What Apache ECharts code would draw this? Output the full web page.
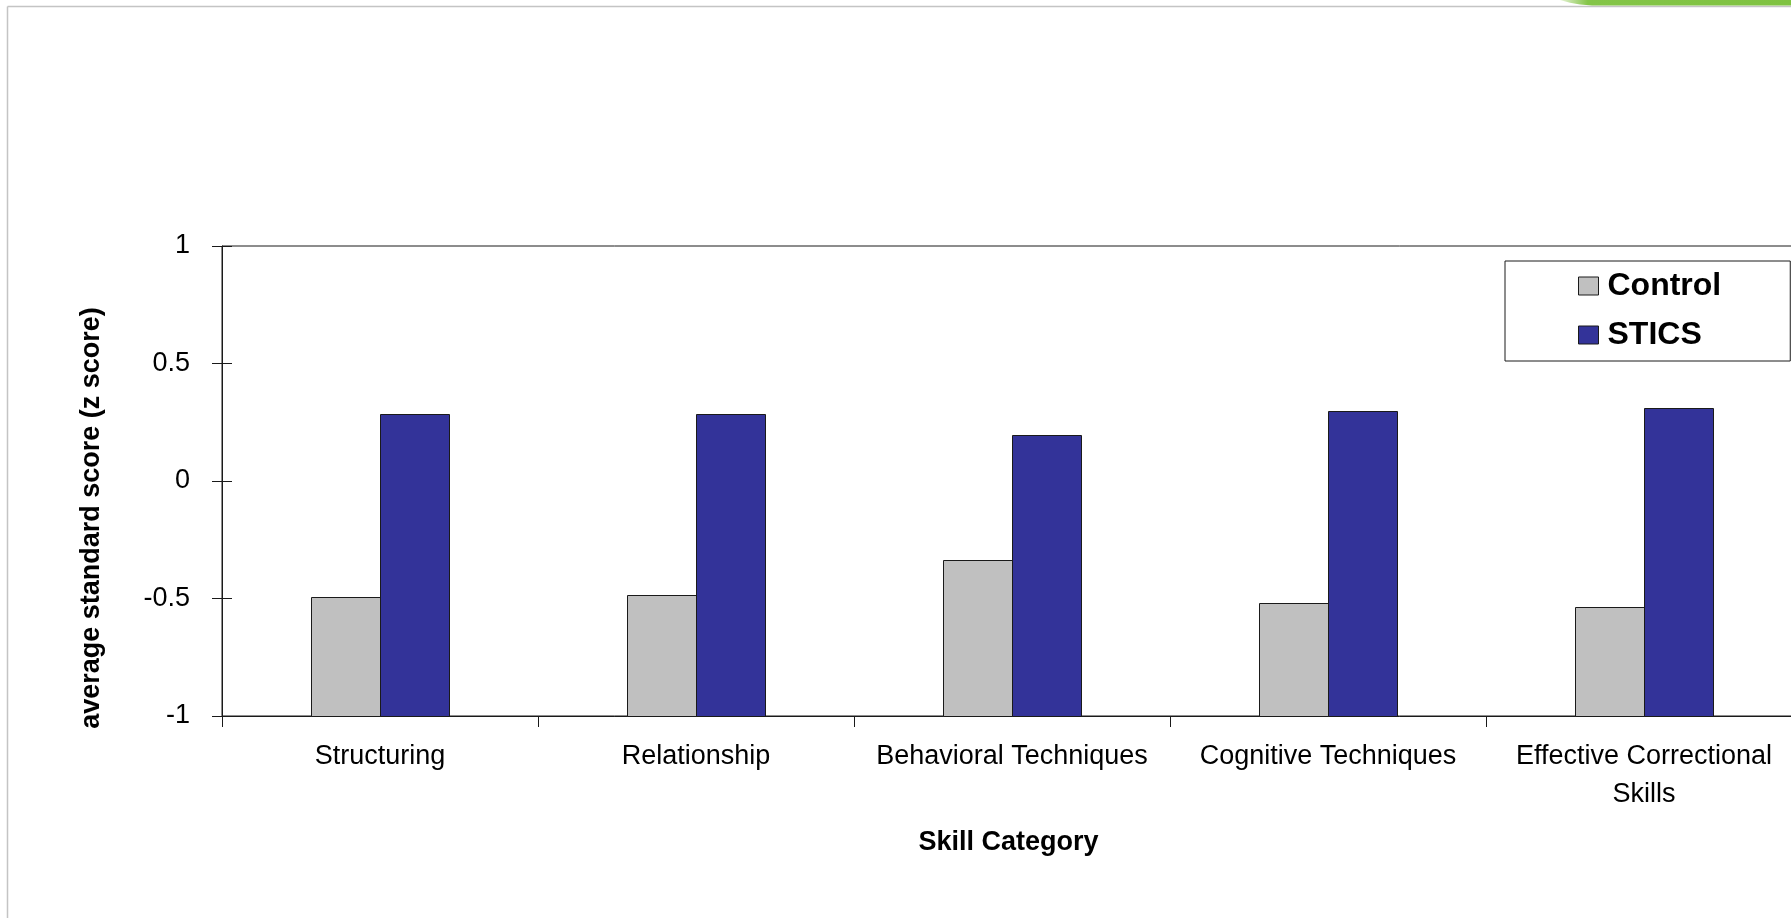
<!DOCTYPE html>
<html>
<head>
<meta charset="utf-8">
<title>Skill Category z scores</title>
<script src="https://cdn.jsdelivr.net/npm/echarts@6/dist/echarts.min.js"></script>
<style>
  html, body { margin: 0; padding: 0; background: #ffffff; }
  #chart { width: 1791px; height: 918px; }
</style>
</head>
<body>
<div id="chart"></div>
<script>
// Skill categories on the x axis
const categories = [
  'Structuring',
  'Relationship',
  'Behavioral Techniques',
  'Cognitive Techniques',
  'Effective Correctional\nSkills'
];

// Average standard scores (z) per group
const controlScores = [-0.493, -0.487, -0.335, -0.52, -0.537];
const sticsScores = [0.284, 0.284, 0.196, 0.30, 0.31];

// Value axis range and step
const yMin = -1;
const yMax = 1;
const yStep = 0.5;

const FONT = "'Liberation Sans', Arial, Helvetica, sans-serif";
const INK = '#1a1a1a';

const chart = echarts.init(document.getElementById('chart'), null, { renderer: 'canvas' });

// Bars rise from the bottom of the value axis (axis crosses at its minimum)
function barRenderer(side) {
  return function (params, api) {
    const ci = api.value(0);
    const v = api.value(1);
    const top = api.coord([ci, v]);
    const base = api.coord([ci, yMin]);
    const band = api.size([1, 0])[0];
    const w = band * 69 / 316;
    const x = side < 0 ? top[0] - w : top[0];
    return {
      type: 'rect',
      shape: { x: Math.round(x) + 0.5, y: Math.round(top[1]) + 0.5, width: Math.round(w), height: Math.round(base[1]) - Math.round(top[1]) },
      style: { fill: api.visual('color'), stroke: INK, lineWidth: 1 }
    };
  };
}

const valueAxisBase = {
  type: 'value',
  min: yMin,
  max: yMax,
  interval: yStep,
  position: 'left',
  splitLine: { show: false }
};

const option = {
  backgroundColor: '#ffffff',
  animation: false,
  textStyle: { fontFamily: FONT },
  graphic: [
    // slide frame
    { type: 'line', silent: true, shape: { x1: 7.5, y1: 6.5, x2: 1791, y2: 6.5 }, style: { stroke: '#c4c4c4', lineWidth: 1.5 } },
    { type: 'line', silent: true, shape: { x1: 7.5, y1: 6.5, x2: 7.5, y2: 918 }, style: { stroke: '#c4c4c4', lineWidth: 1.5 } },
    // green corner accent
    {
      type: 'polygon', silent: true,
      shape: { points: [[1560, 0], [1791, 0], [1791, 5.5], [1592, 5.5], [1580, 4.5], [1570, 2.8], [1560, 0]] },
      style: {
        fill: {
          type: 'linear', x: 0, y: 0, x2: 1, y2: 0,
          colorStops: [
            { offset: 0, color: '#e6f3d6' },
            { offset: 0.12, color: '#84c548' },
            { offset: 1, color: '#7fc241' }
          ]
        }
      }
    }
  ],
  grid: {
    left: 222,
    top: 246,
    right: -11,
    bottom: 202,
    show: true,
    borderColor: INK,
    borderWidth: 1,
    backgroundColor: 'transparent',
    outerBoundsMode: 'none'
  },
  legend: {
    orient: 'vertical',
    left: 1505,
    top: 261,
    padding: [7, 69, 8, 73],
    itemWidth: 20,
    itemHeight: 18,
    itemGap: 13,
    icon: 'rect',
    borderColor: INK,
    borderWidth: 1,
    backgroundColor: '#ffffff',
    itemStyle: { borderColor: INK, borderWidth: 1 },
    textStyle: {
      fontFamily: FONT,
      fontSize: 32,
      fontWeight: 'bold',
      color: '#000000',
      lineHeight: 32,
      padding: [4, 0, 0, 4]
    },
    data: ['Control', 'STICS']
  },
  xAxis: {
    type: 'category',
    data: categories,
    boundaryGap: true,
    axisLine: { show: true, onZero: false, lineStyle: { color: INK, width: 1 } },
    axisTick: { show: true, length: 11, lineStyle: { color: INK, width: 1 } },
    axisLabel: {
      interval: 0,
      margin: 22,
      fontSize: 27,
      lineHeight: 38,
      color: '#000000',
      fontFamily: FONT
    },
    name: 'Skill Category',
    nameLocation: 'middle',
    nameGap: 113,
    nameTextStyle: {
      fontFamily: FONT,
      fontSize: 27,
      fontWeight: 'bold',
      color: '#000000',
      padding: [0, 7, 0, 0]
    }
  },
  yAxis: [
    Object.assign({}, valueAxisBase, {
      axisLine: { show: true, onZero: false, lineStyle: { color: INK, width: 1 } },
      axisTick: { show: true, inside: false, length: 10, lineStyle: { color: INK, width: 1 } },
      axisLabel: {
        margin: 32,
        fontSize: 27,
        color: '#000000',
        fontFamily: FONT,
        padding: [5, 0, 0, 0],
        formatter: function (v) { return String(v); }
      },
      name: 'average standard score (z score)',
      nameLocation: 'middle',
      nameGap: 117,
      nameTextStyle: {
        fontFamily: FONT,
        fontSize: 27,
        fontWeight: 'bold',
        color: '#000000',
        padding: [0, 74, 0, 0]
      }
    }),
    // inner half of the crossing tick marks
    Object.assign({}, valueAxisBase, {
      axisLine: { show: false, onZero: false },
      axisTick: { show: true, inside: true, length: 10, lineStyle: { color: INK, width: 1 } },
      axisLabel: { show: false }
    })
  ],
  series: [
    {
      name: 'Control',
      type: 'custom',
      xAxisIndex: 0,
      yAxisIndex: 0,
      encode: { x: 0, y: 1 },
      itemStyle: { color: '#c0c0c0', borderColor: INK, borderWidth: 1 },
      renderItem: barRenderer(-1),
      data: controlScores.map(function (v, i) { return [i, v]; })
    },
    {
      name: 'STICS',
      type: 'custom',
      xAxisIndex: 0,
      yAxisIndex: 0,
      encode: { x: 0, y: 1 },
      itemStyle: { color: '#333399', borderColor: INK, borderWidth: 1 },
      renderItem: barRenderer(1),
      data: sticsScores.map(function (v, i) { return [i, v]; })
    }
  ]
};

chart.setOption(option);
</script>
</body>
</html>
